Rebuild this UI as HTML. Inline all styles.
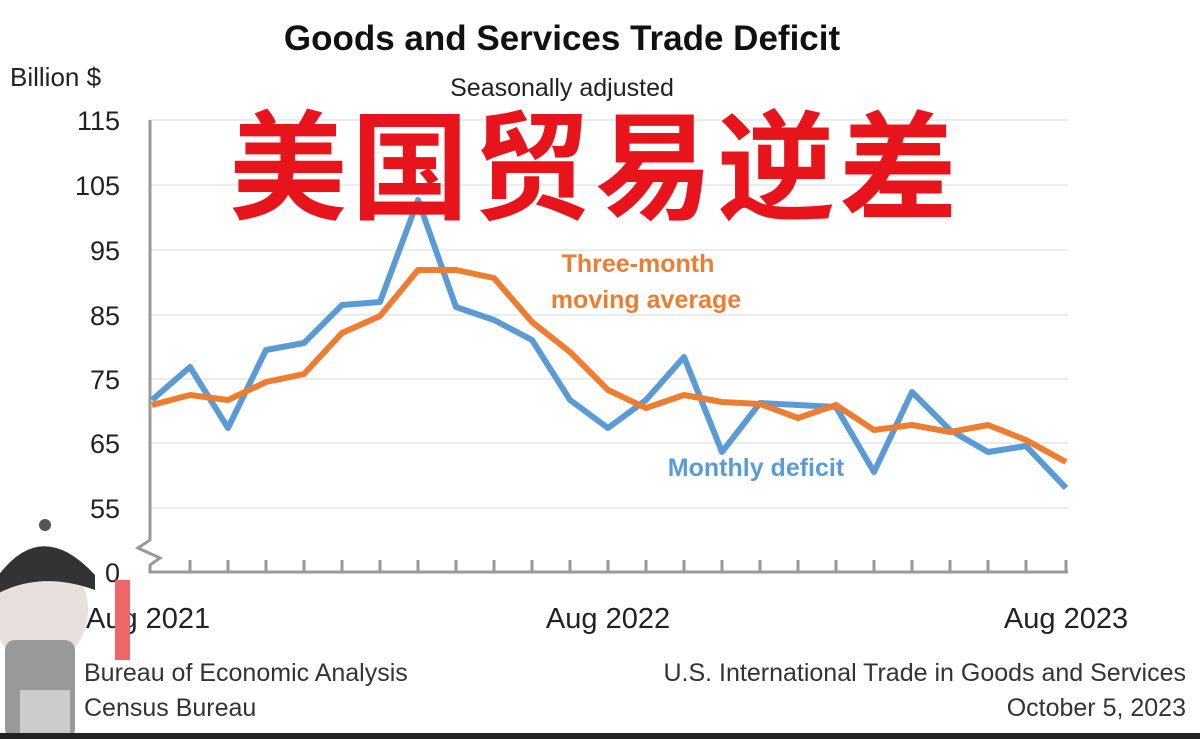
<!DOCTYPE html>
<html><head><meta charset="utf-8"><style>
body{margin:0;width:1200px;height:739px;background:#fff;overflow:hidden}
svg{display:block}
</style></head><body>
<svg width="1200" height="739" xmlns="http://www.w3.org/2000/svg" font-family="Liberation Sans, DejaVu Sans, sans-serif">
<rect width="1200" height="739" fill="#fff"/>
<g stroke="#e6e6e6" stroke-width="1.5">
<line x1="150" y1="120" x2="1068" y2="120"/><line x1="150" y1="185" x2="1068" y2="185"/>
<line x1="150" y1="250" x2="1068" y2="250"/><line x1="150" y1="315" x2="1068" y2="315"/>
<line x1="150" y1="379" x2="1068" y2="379"/><line x1="150" y1="443" x2="1068" y2="443"/>
<line x1="150" y1="508" x2="1068" y2="508"/>
</g>
<g stroke="#999" stroke-width="3" fill="none">
<polyline points="150,120 150,540 138,548 160,558 150,565 150,572 1068,572"/>
</g>
<g stroke="#999" stroke-width="3">
<line x1="190" y1="560" x2="190" y2="572"/><line x1="228" y1="560" x2="228" y2="572"/><line x1="266" y1="560" x2="266" y2="572"/><line x1="304" y1="560" x2="304" y2="572"/><line x1="342" y1="560" x2="342" y2="572"/><line x1="380" y1="560" x2="380" y2="572"/><line x1="418" y1="560" x2="418" y2="572"/><line x1="456" y1="560" x2="456" y2="572"/><line x1="494" y1="560" x2="494" y2="572"/><line x1="532" y1="560" x2="532" y2="572"/><line x1="570" y1="560" x2="570" y2="572"/><line x1="608" y1="560" x2="608" y2="572"/><line x1="646" y1="560" x2="646" y2="572"/><line x1="684" y1="560" x2="684" y2="572"/><line x1="722" y1="560" x2="722" y2="572"/><line x1="760" y1="560" x2="760" y2="572"/><line x1="798" y1="560" x2="798" y2="572"/><line x1="836" y1="560" x2="836" y2="572"/><line x1="874" y1="560" x2="874" y2="572"/><line x1="912" y1="560" x2="912" y2="572"/><line x1="950" y1="560" x2="950" y2="572"/><line x1="988" y1="560" x2="988" y2="572"/><line x1="1026" y1="560" x2="1026" y2="572"/><line x1="1066" y1="560" x2="1066" y2="572"/>
</g>
<g fill="#222" font-size="27" text-anchor="end">
<text x="120" y="130">115</text><text x="120" y="195">105</text><text x="120" y="260">95</text>
<text x="120" y="325">85</text><text x="120" y="389">75</text><text x="120" y="453">65</text>
<text x="120" y="518">55</text><text x="120" y="582">0</text>
</g>
<text x="10" y="86" font-size="26" fill="#222">Billion $</text>
<text x="562" y="50" font-size="35" font-weight="bold" fill="#111" text-anchor="middle">Goods and Services Trade Deficit</text>
<text x="562" y="96" font-size="25" fill="#222" text-anchor="middle">Seasonally adjusted</text>
<polyline fill="none" stroke="#5b9bd5" stroke-width="6" stroke-linejoin="round" points="152,400 190,367 228,428 266,350 304,343 342,305 380,302 418,200 456,307 494,320 532,340 570,400 608,428 646,400 684,357 722,452 760,403 798,405 836,407 874,472 912,392 950,430 988,452 1026,446 1066,488"/>
<polyline fill="none" stroke="#ed7d31" stroke-width="6" stroke-linejoin="round" points="152,405 190,395 228,400 266,382 304,374 342,333 380,316 418,270 456,270 494,278 532,322 570,352 608,390 646,408 684,395 722,402 760,404 798,418 836,405 874,430 912,425 950,432 988,425 1026,440 1066,462"/>
<text x="638" y="272" font-size="25" font-weight="bold" fill="#ed7d31" text-anchor="middle">Three-month</text>
<text x="646" y="308" font-size="25" font-weight="bold" fill="#ed7d31" text-anchor="middle">moving average</text>
<text x="756" y="476" font-size="25" font-weight="bold" fill="#5b9bd5" text-anchor="middle">Monthly deficit</text>
<text x="595" y="210" font-size="118" font-weight="bold" fill="#e8141c" text-anchor="middle" font-family="Liberation Sans, Noto Sans CJK SC, sans-serif" letter-spacing="4">美国贸易逆差</text>
<g fill="#222" font-size="29">
<text x="86" y="628">Aug 2021</text><text x="608" y="628" text-anchor="middle">Aug 2022</text><text x="1066" y="628" text-anchor="middle">Aug 2023</text>
</g>
<g fill="#333" font-size="25">
<text x="84" y="681">Bureau of Economic Analysis</text><text x="84" y="716">Census Bureau</text>
<text x="1186" y="681" text-anchor="end">U.S. International Trade in Goods and Services</text>
<text x="1186" y="716" text-anchor="end">October 5, 2023</text>
</g>
<rect x="115" y="580" width="15" height="80" fill="#e66"/>
<ellipse cx="40" cy="610" rx="48" ry="55" fill="#e8e0dc"/>
<path d="M-5,580 Q40,515 95,575 L95,590 Q40,570 -5,595Z" fill="#333"/>
<circle cx="45" cy="525" r="6" fill="#555"/>
<rect x="5" y="640" width="70" height="99" rx="10" fill="#999"/>
<rect x="20" y="690" width="50" height="49" fill="#ccc"/>
<rect x="0" y="733" width="1200" height="6" fill="#222"/>
</svg>
</body></html>
